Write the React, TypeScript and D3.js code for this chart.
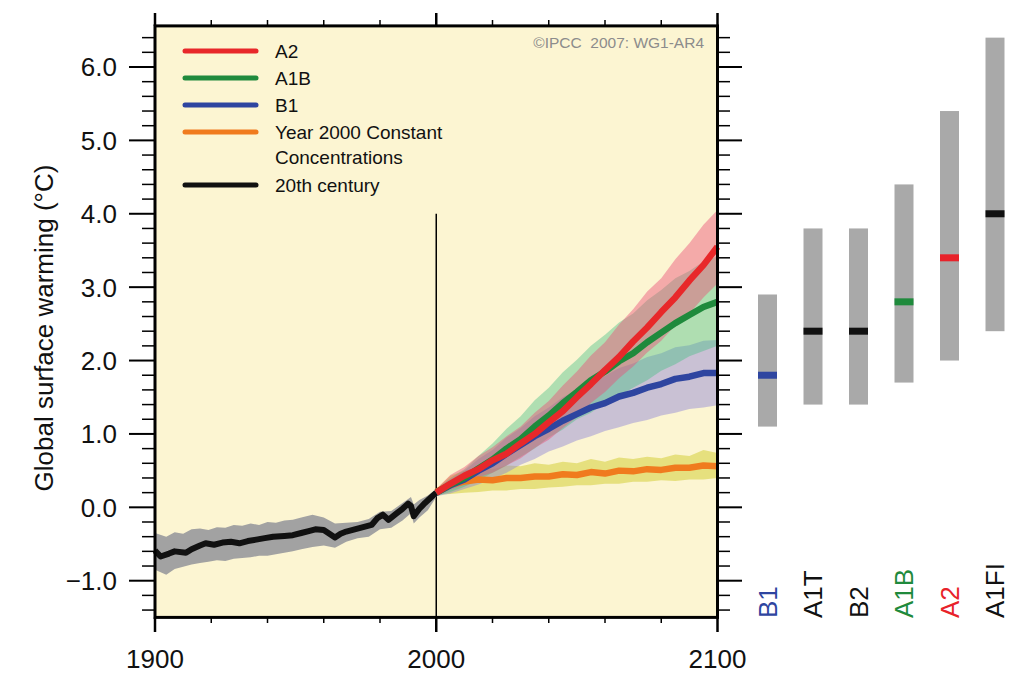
import React from "react";
import * as d3 from "d3";

// ---------- data ----------
const C20_YEARS = [1900,1902,1905,1907,1911,1913,1916,1918,1921,1924,1927,1930,1933,1936,1939,1942,1946,1949,1952,1955,1957,1960,1962,1964,1966,1968,1972,1975,1977,1979,1981,1983,1986,1988,1990,1991,1992,1994,1996,1998,2000];
const C20_MEAN = [-0.59,-0.67,-0.63,-0.60,-0.62,-0.57,-0.52,-0.49,-0.51,-0.48,-0.47,-0.49,-0.46,-0.44,-0.42,-0.40,-0.39,-0.38,-0.35,-0.32,-0.30,-0.31,-0.36,-0.41,-0.36,-0.33,-0.29,-0.26,-0.24,-0.15,-0.10,-0.17,-0.08,-0.02,0.05,0.02,-0.12,-0.02,0.06,0.13,0.20];

const C20_BAND_YEARS = [1900,1904,1907,1910,1913,1916,1919,1922,1925,1928,1931,1934,1937,1940,1943,1946,1949,1952,1956,1960,1964,1968,1972,1976,1980,1984,1988,1991,1992,1994,1997,2000];
const C20_HI = [-0.35,-0.40,-0.34,-0.36,-0.30,-0.29,-0.31,-0.27,-0.28,-0.24,-0.25,-0.22,-0.24,-0.20,-0.21,-0.18,-0.17,-0.14,-0.10,-0.14,-0.22,-0.21,-0.20,-0.16,-0.06,-0.05,0.06,0.14,0.04,0.10,0.16,0.25];
const C20_LO = [-0.85,-0.92,-0.84,-0.81,-0.78,-0.76,-0.74,-0.72,-0.73,-0.70,-0.69,-0.68,-0.66,-0.66,-0.64,-0.62,-0.60,-0.57,-0.54,-0.52,-0.55,-0.47,-0.42,-0.40,-0.30,-0.28,-0.18,-0.08,-0.22,-0.14,-0.04,0.14];

const PROJ_YEARS = [2000,2005,2010,2015,2020,2025,2030,2035,2040,2045,2050,2055,2060,2065,2070,2075,2080,2085,2090,2095,2100];

const A2_MEAN = [0.20,0.32,0.43,0.52,0.64,0.73,0.87,1.00,1.16,1.31,1.50,1.68,1.87,2.05,2.26,2.45,2.66,2.86,3.09,3.30,3.55];
const A2_HI = [0.25,0.44,0.55,0.70,0.82,0.97,1.10,1.29,1.45,1.66,1.85,2.07,2.25,2.49,2.70,2.94,3.12,3.38,3.60,3.85,4.05];
const A2_LO = [0.15,0.24,0.31,0.41,0.47,0.57,0.67,0.81,0.92,1.08,1.23,1.42,1.57,1.76,1.92,2.11,2.27,2.48,2.64,2.86,3.05];

const A1B_MEAN = [0.20,0.31,0.40,0.53,0.65,0.80,0.93,1.10,1.25,1.42,1.57,1.73,1.85,1.99,2.10,2.25,2.38,2.51,2.62,2.73,2.80];
const A1B_HI = [0.25,0.40,0.52,0.70,0.87,1.07,1.24,1.46,1.63,1.84,2.01,2.20,2.35,2.52,2.64,2.82,2.96,3.12,3.22,3.35,3.42];
const A1B_LO = [0.15,0.21,0.28,0.37,0.47,0.57,0.69,0.80,0.95,1.06,1.20,1.29,1.42,1.52,1.63,1.73,1.86,1.95,2.06,2.13,2.20];

const B1_MEAN = [0.20,0.30,0.38,0.50,0.60,0.73,0.85,0.97,1.07,1.18,1.27,1.36,1.42,1.51,1.56,1.63,1.68,1.75,1.78,1.83,1.83];
const B1_HI = [0.25,0.38,0.50,0.66,0.78,0.95,1.08,1.24,1.36,1.50,1.60,1.72,1.79,1.90,1.96,2.05,2.10,2.18,2.21,2.27,2.28];
const B1_LO = [0.15,0.19,0.25,0.31,0.39,0.47,0.58,0.66,0.76,0.83,0.91,0.97,1.04,1.09,1.15,1.19,1.25,1.29,1.34,1.36,1.39];

const CONST_MEAN = [0.21,0.31,0.35,0.38,0.37,0.40,0.40,0.42,0.42,0.45,0.44,0.48,0.46,0.50,0.49,0.52,0.51,0.54,0.54,0.57,0.56];
const CONST_HI = [0.25,0.43,0.50,0.54,0.52,0.57,0.56,0.60,0.58,0.62,0.60,0.66,0.62,0.68,0.66,0.69,0.67,0.72,0.70,0.78,0.74];
const CONST_LO = [0.17,0.18,0.20,0.21,0.23,0.23,0.25,0.25,0.27,0.28,0.30,0.30,0.32,0.32,0.35,0.35,0.37,0.36,0.38,0.38,0.40];

const SCENARIOS = ["B1","A1T","B2","A1B","A2","A1FI"];
const SCEN_BEST = [1.8,2.4,2.4,2.8,3.4,4.0];
const SCEN_LOW = [1.1,1.4,1.4,1.7,2.0,2.4];
const SCEN_HIGH = [2.9,3.8,3.8,4.4,5.4,6.4];
const SCEN_COLORS = ["#2e45a0","#111111","#111111","#1f8a3c","#e8222a","#111111"];

const Y_TICKS = [6,5,4,3,2,1,0,-1];
const X_TICKS = [1900,2000,2100];

const LEGEND_LABELS = [["A2"],["A1B"],["B1"],["Year 2000 Constant","Concentrations"],["20th century"]];
const LEGEND_COLORS = ["#e8282a","#1f8a3c","#2e45a0","#f07b1e","#111111"];

// ---------- component ----------
export default function App() {
  const x = d3.scaleLinear().domain([1900, 2100]).range([155, 717.5]);
  const y = d3.scaleLinear().domain([-1.5, 6.56]).range([617.4, 25.9]);
  const sx = d3.scalePoint<string>().domain(SCENARIOS).range([767.5, 995]);

  const font = "'Liberation Sans', Arial, Helvetica, sans-serif";

  const band = (years: number[], lo: number[], hi: number[]) =>
    d3.area<number>().x((_, i) => x(years[i])).y0((_, i) => y(lo[i])).y1((_, i) => y(hi[i]))(years) || "";
  const line = (years: number[], v: number[]) =>
    d3.line<number>().x((_, i) => x(years[i])).y((_, i) => y(v[i]))(years) || "";

  const minorY = d3.range(-1.4, 6.56, 0.2).map((v) => Math.round(v * 10) / 10).filter((v) => Math.abs(v - Math.round(v)) > 0.01);
  const minorX = d3.range(1920, 2100, 20).filter((v) => v !== 2000);

  const x0 = x(1900), x1 = x(2100), y0 = y(-1.5), y1 = y(6.56);

  const rowY = [51, 78, 105, 132, 185];
  const legendRows = LEGEND_LABELS.map((l, i) => ({ label: l, color: LEGEND_COLORS[i], y: rowY[i] }));

  return (
    <svg width={1024} height={676} style={{ position: "absolute", left: 0, top: 0, background: "#fff" }} fontFamily={font}>
      <rect x={x0} y={y1} width={x1 - x0} height={y0 - y1} fill="#fcf5d2" />

      {/* vertical line at 2000 */}
      <line x1={x(2000)} x2={x(2000)} y1={y(4)} y2={y0} stroke="#000" strokeWidth={1.5} />

      {/* uncertainty bands */}
      <path d={band(C20_BAND_YEARS, C20_LO, C20_HI)} fill="#a2a2a2" />
      <path d={band(PROJ_YEARS, CONST_LO, CONST_HI)} fill="rgb(215,210,70)" fillOpacity={0.6} />
      <path d={band(PROJ_YEARS, B1_LO, B1_HI)} fill="rgb(140,130,215)" fillOpacity={0.45} />
      <path d={band(PROJ_YEARS, A1B_LO, A1B_HI)} fill="rgb(70,190,130)" fillOpacity={0.42} />
      <path d={band(PROJ_YEARS, A2_LO, A2_HI)} fill="rgb(235,80,120)" fillOpacity={0.45} />

      {/* mean lines */}
      <path d={line(C20_YEARS, C20_MEAN)} fill="none" stroke="#111" strokeWidth={6} strokeLinejoin="round" />
      <path d={line(PROJ_YEARS, CONST_MEAN)} fill="none" stroke="#f07b1e" strokeWidth={6.5} strokeLinejoin="round" />
      <path d={line(PROJ_YEARS, B1_MEAN)} fill="none" stroke="#2e45a0" strokeWidth={6.5} strokeLinejoin="round" />
      <path d={line(PROJ_YEARS, A1B_MEAN)} fill="none" stroke="#1f8a3c" strokeWidth={6.5} strokeLinejoin="round" />
      <path d={line(PROJ_YEARS, A2_MEAN)} fill="none" stroke="#e8282a" strokeWidth={6.5} strokeLinejoin="round" />

      {/* frame */}
      <rect x={x0} y={y1} width={x1 - x0} height={y0 - y1} fill="none" stroke="#000" strokeWidth={3} />

      {/* y ticks left & right */}
      {Y_TICKS.map((v) => (
        <g key={"yt" + v}>
          <line x1={129} x2={x0} y1={y(v)} y2={y(v)} stroke="#000" strokeWidth={2} />
          <line x1={x1} x2={742} y1={y(v)} y2={y(v)} stroke="#000" strokeWidth={2} />
          <text x={117} y={y(v)} dy="0.36em" textAnchor="end" fontSize={26} fill="#111">
            {v < 0 ? "\u2212" + Math.abs(v).toFixed(1) : v.toFixed(1)}
          </text>
        </g>
      ))}
      {minorY.map((v) => (
        <g key={"ym" + v}>
          <line x1={142} x2={x0} y1={y(v)} y2={y(v)} stroke="#000" strokeWidth={1.5} />
          <line x1={x1} x2={730} y1={y(v)} y2={y(v)} stroke="#000" strokeWidth={1.5} />
        </g>
      ))}

      {/* x ticks top & bottom */}
      {X_TICKS.map((v) => (
        <g key={"xt" + v}>
          <line x1={x(v)} x2={x(v)} y1={y0} y2={632} stroke="#000" strokeWidth={2.5} />
          <line x1={x(v)} x2={x(v)} y1={y1} y2={13} stroke="#000" strokeWidth={2.5} />
          <text x={x(v)} y={668} textAnchor="middle" fontSize={26} fill="#111">{v}</text>
        </g>
      ))}
      {minorX.map((v) => (
        <g key={"xm" + v}>
          <line x1={x(v)} x2={x(v)} y1={y0} y2={623} stroke="#000" strokeWidth={1.5} />
          <line x1={x(v)} x2={x(v)} y1={y1} y2={20} stroke="#000" strokeWidth={1.5} />
        </g>
      ))}

      {/* y axis title */}
      <text transform={`translate(53,328) rotate(-90)`} textAnchor="middle" fontSize={26} fill="#111">
        Global surface warming (°C)
      </text>

      {/* copyright */}
      <text x={704} y={48} textAnchor="end" fontSize={15.5} fill="#8c8c8c" xmlSpace="preserve">{"©IPCC\u00a0 2007: WG1-AR4"}</text>

      {/* legend */}
      {legendRows.map((r, i) => (
        <g key={"lg" + i}>
          <line x1={185} x2={256} y1={r.y} y2={r.y} stroke={r.color} strokeWidth={5} strokeLinecap="round" />
          {r.label.map((t, j) => (
            <text key={j} x={275} y={r.y + j * 25} dy="0.35em" fontSize={19} fill="#111">{t}</text>
          ))}
        </g>
      ))}

      {/* right panel: likely ranges */}
      {SCENARIOS.map((s, i) => (
        <g key={"sc" + s}>
          <rect x={(sx(s) as number) - 9.5} y={y(SCEN_HIGH[i])} width={19} height={y(SCEN_LOW[i]) - y(SCEN_HIGH[i])} fill="#a9a9a9" />
          <rect x={(sx(s) as number) - 9.5} y={y(SCEN_BEST[i]) - 3.5} width={19} height={7} fill={SCEN_COLORS[i]} />
          <text transform={`translate(${sx(s)},618) rotate(-90)`} dy="0.36em" textAnchor="start" fontSize={26} fill={SCEN_COLORS[i]}>
            {s}
          </text>
        </g>
      ))}
    </svg>
  );
}
